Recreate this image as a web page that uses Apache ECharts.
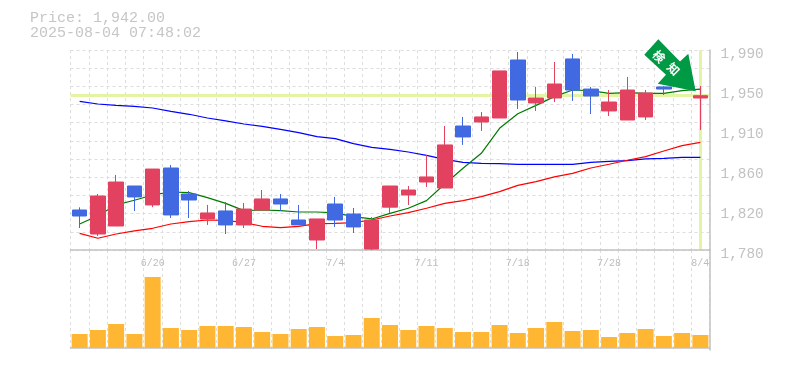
<!DOCTYPE html>
<html>
<head>
<meta charset="utf-8">
<style>html,body{margin:0;padding:0;background:#fff}#c{width:785px;height:370px}</style>
<script src="https://cdn.jsdelivr.net/npm/echarts@6/dist/echarts.min.js"></script>
</head>
<body>
<div id="c"></div>
<script>
const categories = ['6/16','6/17','6/18','6/19','6/20','6/23','6/24','6/25','6/26','6/27','6/30','7/1','7/2','7/3','7/4','7/7','7/8','7/9','7/10','7/11','7/14','7/15','7/16','7/17','7/18','7/22','7/23','7/24','7/25','7/28','7/29','7/30','7/31','8/1','8/4'];
const opens  = [1822,1796.8,1805.2,1847.2,1827.3,1866.1,1838.8,1812.6,1821,1806.3,1822,1833.6,1811.5,1790.5,1828.3,1817.8,1781,1825,1837.8,1851.4,1845.1,1910.2,1914.4,1918.6,1979.5,1934.4,1939.6,1980.6,1949,1926,1916.5,1919.7,1951.2,1952,1939.6];
const closes = [1815.7,1836.7,1851.4,1835.7,1865,1816.8,1832.5,1818.9,1806.3,1823,1833.6,1828.3,1806.3,1812.6,1811.5,1804.2,1811.5,1847.2,1843,1856.7,1890.3,1898.7,1919.7,1968,1937.5,1939.6,1954.3,1948,1941.7,1935.4,1948,1944.9,1949,1965,1942];
const lows   = [1803.1,1794.7,1805.2,1821,1825,1813.6,1813.6,1806.3,1796.8,1803.1,1821,1821,1806.3,1781,1804.2,1797.9,1780,1818.9,1827.3,1846.2,1845.1,1890.3,1905,1918.6,1928.1,1926,1935.4,1936.5,1922.8,1920.7,1916.5,1916.5,1942.8,1952,1906];
const highs  = [1824.8,1838.8,1858.8,1847.2,1865,1869.3,1842,1827.3,1830.4,1829.4,1843,1838.8,1827.3,1812.6,1835.7,1824.1,1814.6,1847.2,1847.2,1879.8,1910.2,1919.7,1924.9,1968,1987.9,1951.2,1977.4,1985.8,1951.2,1948,1961.7,1948,1952,1965,1952.2];
const maShort = [1807.3,1816,1827.3,1832.2,1837.8,1840.9,1840.2,1835,1829,1821.3,1822,1821.3,1819.9,1819.9,1818.9,1815,1812.6,1818.5,1823.8,1831.8,1849.3,1865.8,1881.5,1907.8,1923,1931.9,1941,1948,1947.3,1944.5,1945.2,1944.5,1944.5,1947.3,1949];
const maMid = [1797.5,1792.3,1796.8,1800,1802.8,1807.3,1809.8,1811.5,1811.2,1808.7,1804.9,1803.5,1804.9,1807.7,1808,1808.7,1811.5,1815.7,1819.2,1823.8,1829,1831.8,1836,1841.3,1847.8,1851.8,1856.7,1860.5,1866.1,1870,1874.2,1878,1884,1889.6,1893];
const maLong = [1936.1,1933.3,1931.9,1930.9,1929.1,1925.6,1922.5,1918.6,1915.5,1912.3,1909.9,1906.7,1903.2,1899,1896.9,1891.7,1887.8,1885.7,1882.9,1879.4,1875.2,1872.1,1871,1870.7,1870,1870,1870,1870,1872,1873.1,1873.8,1875.6,1876.3,1877.3,1877.3];
const volumes = [14,18,24,14,71,20,18,22,22,21,16,14,19,21,12,13,30,23,18,22,20,16,16,23,15,20,26,17,18,11,15,19,12,15,13];
const priceTickValues = [1780,1822,1864,1906,1948,1990];
const priceTickLabels = ['1,780','1,820','1,860','1,910','1,950','1,990'];
const gridValues = [1780,1799.09,1818.18,1837.27,1856.36,1875.45,1894.55,1913.64,1932.73,1951.82,1970.91,1990];
const lastPrice = 1942;
const lastIndex = 34;
const titleLines = ['Price: 1,942.00','2025-08-04 07:48:02'];
const badgeText = ['検','知'];

const GREY = '#c2c2c2', GRID = '#dddddd';
const mono = '"Liberation Mono", monospace';
const chart = echarts.init(document.getElementById('c'), null, {renderer:'canvas'});
const splitX = {show:true, interval:0, lineStyle:{color:GRID, type:[3,3], width:1}};
const candles = categories.map((_, i) => [opens[i], closes[i], lows[i], highs[i]]);
const line = (name, data, color, extra) => Object.assign({
  name, type:'line', data, showSymbol:false, symbol:'none', z:1, silent:true,
  lineStyle:{color, width:1.2}, xAxisIndex:0, yAxisIndex:0, animation:false
}, extra || {});

chart.setOption({
  animation:false,
  backgroundColor:'#fff',
  title:{text:titleLines.join('\n'), left:30, top:11, padding:0,
    textStyle:{fontFamily:mono, fontSize:15, lineHeight:15, fontWeight:'normal', color:'#c6c6c6'}},
  grid:[
    {left:70.5, width:639, top:50, height:200},
    {left:70.5, width:639, top:250, height:100}
  ],
  xAxis:[
    {type:'category', gridIndex:0, data:categories, boundaryGap:true,
      axisLine:{show:true, lineStyle:{color:GREY, width:1.5}}, axisTick:{show:false},
      splitLine:splitX,
      axisLabel:{show:true, margin:8, interval:(i)=>i%5===4, fontFamily:mono, fontSize:10, color:'#bdbdbd'}},
    {type:'category', gridIndex:1, data:categories, boundaryGap:true,
      axisLine:{show:true, lineStyle:{color:GREY, width:1.5}}, axisTick:{show:false},
      splitLine:splitX, axisLabel:{show:false}}
  ],
  yAxis:[
    {type:'value', gridIndex:0, position:'right', min:1780, max:1990, scale:true,
      axisLine:{show:true, lineStyle:{color:GREY, width:1.5}},
      axisTick:{show:false, customValues:gridValues},
      splitLine:{show:true, lineStyle:{color:GRID, type:[3,3], width:1}},
      axisLabel:{show:true, customValues:priceTickValues, margin:11, verticalAlign:'top', lineHeight:8, align:'left',
        showMinLabel:true, showMaxLabel:true, hideOverlap:false,
        formatter:(v)=>priceTickLabels[priceTickValues.indexOf(v)],
        fontFamily:mono, fontSize:14.4, color:'#c2c2c2'}},
    {type:'value', gridIndex:1, position:'right', min:-2, max:98,
      axisLine:{show:true, lineStyle:{color:GREY, width:1.5}}, axisTick:{show:false},
      splitLine:{show:false}, axisLabel:{show:false}}
  ],
  series:[
    line('long', maLong, '#0000ff', {
      markLine:{silent:true, symbol:'none', z:0, animation:false, label:{show:false},
        lineStyle:{color:'#e3f4a4', width:3, type:'solid'},
        data:[{yAxis:lastPrice},{xAxis:lastIndex}]}
    }),
    line('mid', maMid, '#ff0000'),
    line('short', maShort, '#007a00'),
    {name:'price', type:'candlestick', data:candles, xAxisIndex:0, yAxisIndex:0, barWidth:15, z:2, silent:true,
      itemStyle:{color:'#e24260', color0:'#4169e1', borderColor:'#e24260', borderColor0:'#4169e1', borderWidth:1}},
    {name:'volume', type:'bar', data:volumes, xAxisIndex:1, yAxisIndex:1, barWidth:16, silent:true,
      itemStyle:{color:'#ffb733'}}
  ],
  graphic:[
    {type:'polygon', z:100, silent:true,
      shape:{points:[[658.3,39.3],[680,61.5],[688.3,53.7],[695.7,91.3],[657.7,83.7],[666,74.7],[644.3,54.7]]},
      style:{fill:'#009944'}},
    {type:'text', z:101, silent:true, x:659, y:56.5, rotation:-Math.PI/4,
      style:{text:badgeText[0], fill:'#fff', font:'bold 12px "Noto Sans CJK JP"', align:'center', verticalAlign:'middle'}},
    {type:'text', z:101, silent:true, x:673.5, y:69, rotation:-Math.PI/4,
      style:{text:badgeText[1], fill:'#fff', font:'bold 12px "Noto Sans CJK JP"', align:'center', verticalAlign:'middle'}}
  ]
});
</script>
</body>
</html>
